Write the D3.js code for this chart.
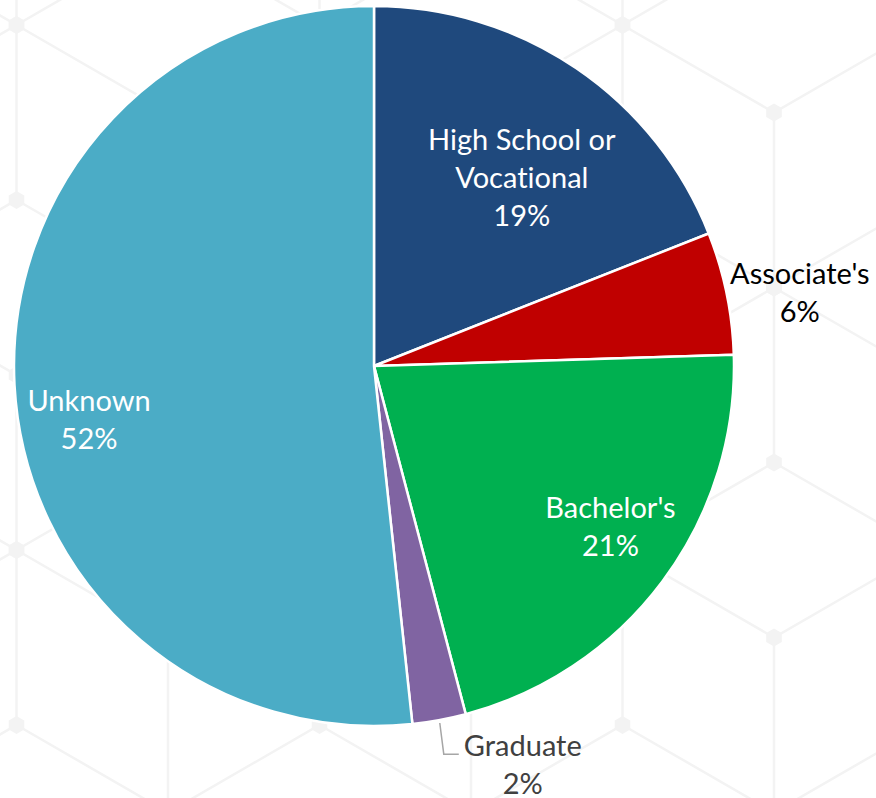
<!DOCTYPE html>
<html>
  <head>
    <script src="https://d3js.org/d3.v7.min.js"></script>
    <style type="text/css">
  body { margin:0; background:#fff; }
  svg { display:block; }
  .lbl { font-family: Lato, "Noto Sans", sans-serif; font-size: 29px; font-variant-ligatures: none; }
    </style>
  </head>
  <body>
  <div id="container"></div>
  <script type="text/javascript">

  // chart data
  var categories = ["High School or Vocational", "Associate's", "Bachelor's", "Graduate", "Unknown"];
  var values = [19.0, 5.5, 21.4, 2.4, 51.7];
  var colors = ["#1F497D", "#C00000", "#00B050", "#8064A2", "#4BACC6"];

  // label placement: radius from centre and angle nudge (deg) off the slice middle
  var labelRadius = [239, 432, 286, 426, 290];
  var labelShift = [4, 2, -2.5, -10, -7.6];
  var labelColor = ["#fff", "#000", "#fff", "#404040", "#fff"];
  var leader = [false, false, false, true, false];

  var width = 876, height = 798,
    cx = 374, cy = 366, radius = 360, lineH = 38;

  var svg = d3.select("#container")
    .append("svg")
    .attr("width", width)
    .attr("height", height);

  // faint background lattice (diamonds joined by vertical struts)
  var bg = svg.append("g");
  var hw = 151.5, hh = 87.5, centres = [];
  for (var r = -1; r <= 4; r++) {
    var y0 = 25 + 262.5 * r;
    var xs = 774 - (Math.abs(r) % 2) * hw;
    for (var m = -4; m <= 2; m++) centres.push([xs + 2 * hw * m, y0]);
  }
  bg.selectAll("path.dia")
    .data(centres)
    .enter().append("path")
      .attr("d", function(c) {
        return "M" + c[0] + "," + (c[1] - hh) + "L" + (c[0] + hw) + "," + c[1] +
          "L" + c[0] + "," + (c[1] + hh) + "L" + (c[0] - hw) + "," + c[1] + "Z";
      })
      .attr("fill", "none")
      .attr("stroke", "#f3f3f3")
      .attr("stroke-width", 2.5);
  bg.selectAll("line.strut")
    .data(centres)
    .enter().append("line")
      .attr("x1", function(c) { return c[0]; })
      .attr("x2", function(c) { return c[0]; })
      .attr("y1", function(c) { return c[1] + hh; })
      .attr("y2", function(c) { return c[1] + 525 - hh; })
      .attr("stroke", "#f3f3f3")
      .attr("stroke-width", 2.5);
  var verts = [];
  centres.forEach(function(c) {
    verts.push([c[0], c[1] - hh], [c[0], c[1] + hh], [c[0] - hw, c[1]], [c[0] + hw, c[1]]);
  });
  var hex = d3.range(6).map(function(i) {
    var a = Math.PI / 3 * i + Math.PI / 6;
    return [9 * Math.cos(a), 9 * Math.sin(a)];
  });
  bg.selectAll("path.node")
    .data(verts)
    .enter().append("path")
      .attr("transform", function(v) { return "translate(" + v + ")"; })
      .attr("d", d3.line()(hex) + "Z")
      .attr("fill", "#f3f3f3");

  // pie
  var pie = d3.pie().sort(null).value(function(d) { return d; });
  var arcs = pie(values);
  var arc = d3.arc().innerRadius(0).outerRadius(radius);

  var g = svg.append("g")
    .attr("transform", "translate(" + cx + "," + cy + ")");

  g.selectAll("path.slice")
    .data(arcs)
    .enter().append("path")
      .attr("class", "slice")
      .attr("d", arc)
      .attr("fill", function(d, i) { return colors[i]; })
      .attr("stroke", "#fff")
      .attr("stroke-width", 2.5)
      .attr("stroke-linejoin", "round");

  function polar(a, r) { return [r * Math.sin(a), -r * Math.cos(a)]; }

  arcs.forEach(function(d, i) {
    var mid = (d.startAngle + d.endAngle) / 2;
    var p = polar(mid + labelShift[i] * Math.PI / 180, labelRadius[i]);
    var lines = categories[i].split(/(?<=or) /);
    lines.push(Math.round(values[i]) + "%");
    var n = lines.length;
    var t = g.append("text")
      .attr("class", "lbl")
      .attr("text-anchor", "middle")
      .attr("fill", labelColor[i]);
    lines.forEach(function(s, k) {
      t.append("tspan")
        .attr("x", p[0])
        .attr("y", p[1] + (k - (n - 1) / 2) * lineH)
        .attr("dy", "0.34em")
        .text(s);
    });
    if (leader[i]) {
      var first = t.select("tspan").node();
      var w = first.getComputedTextLength();
      var s0 = polar(mid, radius + 3);
      var ly = p[1] - (n - 1) / 2 * lineH + 8;
      var lx = p[0] - w / 2 - 5;
      g.append("path")
        .attr("d", "M" + s0[0] + "," + s0[1] + "L" + (s0[0] + 4) + "," + ly + "L" + lx + "," + ly)
        .attr("fill", "none")
        .attr("stroke", "#a6a6a6")
        .attr("stroke-width", 1.5);
    }
  });

  </script>
  </body>
</html>
